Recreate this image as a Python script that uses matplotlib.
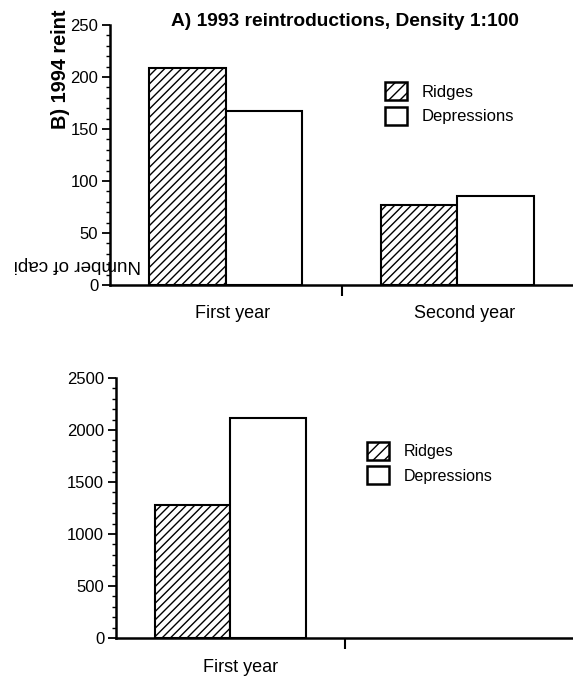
import matplotlib
matplotlib.use("Agg")
import matplotlib.pyplot as plt
from matplotlib.patches import Patch
from matplotlib.ticker import MultipleLocator, FixedLocator, NullFormatter
import numpy as np

plt.rcParams['font.family'] = ['Liberation Sans', 'DejaVu Sans']
plt.rcParams['hatch.linewidth'] = 1.0

# Data
categories_a = ["First year", "Second year"]
ridges_a = [209, 77]
depressions_a = [167, 86]

categories_b = ["First year"]
ridges_b = [1280]
depressions_b = [2120]

title_a = "A) 1993 reintroductions, Density 1:100"
label_b = "B) 1994 reint"
ylabel_text = "Number of capi"
series_names = ["Ridges", "Depressions"]

W, H = 573, 683
fig = plt.figure(figsize=(W / 100, H / 100), dpi=100)

def px_axes(left, top, right, bottom):
    return fig.add_axes([left / W, 1 - bottom / H, (right - left) / W, (bottom - top) / H])

ax1 = px_axes(110, 25, 573, 285)
ax2 = px_axes(116, 378, 573, 638)

bw = 0.33

def style(ax, ymax, major, minor):
    ax.set_xlim(-0.5, 1.5)
    ax.set_ylim(0, ymax)
    for s in ["top", "right"]:
        ax.spines[s].set_visible(False)
    for s in ["left", "bottom"]:
        ax.spines[s].set_linewidth(1.8)
    ax.yaxis.set_major_locator(MultipleLocator(major))
    ax.yaxis.set_minor_locator(MultipleLocator(minor))
    ax.tick_params(axis='y', which='major', direction='out', length=6, width=1.3, labelsize=12, pad=2.5)
    ax.tick_params(axis='y', which='minor', direction='out', length=3, width=1.0)
    ax.xaxis.set_major_locator(FixedLocator([0.5]))
    ax.xaxis.set_major_formatter(NullFormatter())
    ax.tick_params(axis='x', which='major', direction='out', length=8, width=1.5)
    ax.patch.set_alpha(0)

# Panel A
xa = np.arange(len(categories_a))
ax1.bar(xa - bw / 2, ridges_a, bw, facecolor='white', edgecolor='black', hatch='////', linewidth=1.5)
ax1.bar(xa + bw / 2, depressions_a, bw, facecolor='white', edgecolor='black', linewidth=1.5)
style(ax1, 250, 50, 10)
for x, lab in zip(xa, categories_a):
    ax1.text(x + 0.03, -0.108, lab, transform=ax1.get_xaxis_transform(), ha='center', va='center', fontsize=13)

# Panel B
xb = np.arange(len(categories_b))
ax2.bar(xb - bw / 2, ridges_b, bw, facecolor='white', edgecolor='black', hatch='////', linewidth=1.5)
ax2.bar(xb + bw / 2, depressions_b, bw, facecolor='white', edgecolor='black', linewidth=1.5)
style(ax2, 2500, 500, 100)
for x, lab in zip(xb, categories_b):
    ax2.text(x + 0.045, -0.115, lab, transform=ax2.get_xaxis_transform(), ha='center', va='center', fontsize=13)

# Legends
handles = [Patch(facecolor='white', edgecolor='black', hatch='///', linewidth=1.8, label=series_names[0]),
           Patch(facecolor='white', edgecolor='black', linewidth=1.8, label=series_names[1])]
for ax, (lx, ly), fs in [(ax1, (385, 82), 12), (ax2, (367, 442), 11.5)]:
    em = fs * 100 / 72
    ax.legend(handles=handles, loc='upper left', bbox_to_anchor=(lx / W, 1 - ly / H),
              bbox_transform=fig.transFigure, frameon=False, borderpad=0,
              fontsize=fs, handlelength=22 / em, handleheight=22 / em, handletextpad=15 / em,
              labelspacing=0.38, borderaxespad=0)

# Texts
fig.text(345 / W, 1 - 21 / H, title_a, ha='center', va='center', fontsize=13.8, fontweight='bold')
fig.text(60 / W, 1 - 69 / H, label_b, ha='center', va='center', rotation=90, fontsize=14.3, fontweight='bold')
fig.text(77 / W, 1 - 265 / H, ylabel_text, ha='center', va='center', rotation=180, fontsize=13.6)

fig.savefig("out.png", dpi=100)
